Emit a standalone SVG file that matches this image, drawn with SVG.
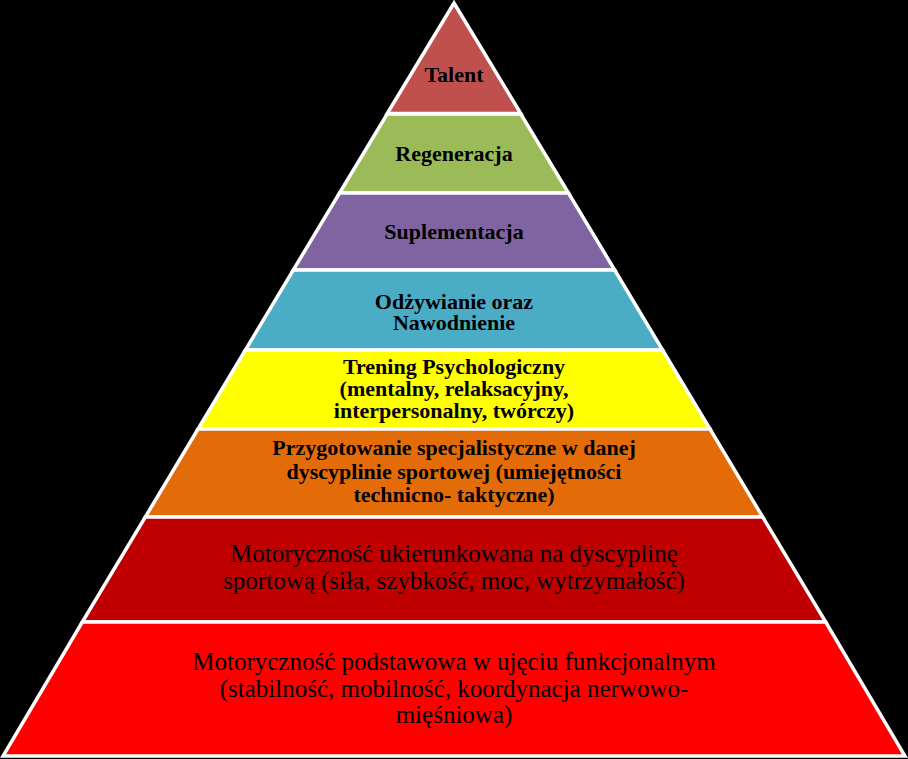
<svg xmlns="http://www.w3.org/2000/svg" width="908" height="759" viewBox="0 0 908 759">
<style>
.layer{stroke:#FFFFFF;stroke-width:3.5;stroke-linejoin:miter}
.t{font-family:"Liberation Serif","Times New Roman",serif;font-weight:bold;font-size:22px;fill:#000;text-anchor:middle}
.r{font-family:"Liberation Serif","Times New Roman",serif;font-weight:normal;font-size:25px;fill:#000;text-anchor:middle}
</style>
<rect x="0" y="0" width="908" height="759" fill="#000000"/>
<g id="talent">
<polygon class="layer" fill="#C0504D" points="454,3 520.8,113.5 387.2,113.5"/>
<text class="t" x="454" y="82">Talent</text>
</g>
<g id="regeneracja">
<polygon class="layer" fill="#9BBB59" points="387.2,114 520.8,114 568.5,193 339.5,193"/>
<text class="t" x="454" y="161">Regeneracja</text>
</g>
<g id="suplementacja">
<polygon class="layer" fill="#8064A2" points="339.5,193 568.5,193 614.7,270 293.3,270"/>
<text class="t" x="454" y="239">Suplementacja</text>
</g>
<g id="odzywianie">
<polygon class="layer" fill="#4BACC6" points="293.3,270 614.7,270 662.6,350 245.4,350"/>
<text class="t" x="454" y="309">Odżywianie oraz</text>
<text class="t" x="454" y="330">Nawodnienie</text>
</g>
<g id="trening">
<polygon class="layer" fill="#FFFF00" points="245.4,350 662.6,350 710,429 198,429"/>
<text class="t" x="454" y="374">Trening Psychologiczny</text>
<text class="t" x="454" y="396">(mentalny, relaksacyjny,</text>
<text class="t" x="454" y="418">interpersonalny, twórczy)</text>
</g>
<g id="przygotowanie">
<polygon class="layer" fill="#E36C09" points="198,429 710,429 762.7,517 145.3,517"/>
<text class="t" x="454" y="455">Przygotowanie specjalistyczne w danej</text>
<text class="t" x="454" y="479">dyscyplinie sportowej (umiejętności</text>
<text class="t" x="454" y="502">technicno- taktyczne)</text>
</g>
<g id="motorycznosc-ukierunkowana">
<polygon class="layer" fill="#C00000" points="145.3,517 762.7,517 825.7,622 82.3,622"/>
<text class="r" x="454" y="562">Motoryczność ukierunkowana na dyscyplinę</text>
<text class="r" x="454" y="589">sportową (siła,  szybkość, moc, wytrzymałość)</text>
</g>
<g id="motorycznosc-podstawowa">
<polygon class="layer" fill="#FF0000" points="82.3,622 825.7,622 905,756 3,756"/>
<text class="r" x="454" y="670">Motoryczność podstawowa w ujęciu funkcjonalnym</text>
<text class="r" x="454" y="697">(stabilność, mobilność, koordynacja nerwowo-</text>
<text class="r" x="454" y="723">mięśniowa)</text>
</g>
</svg>
